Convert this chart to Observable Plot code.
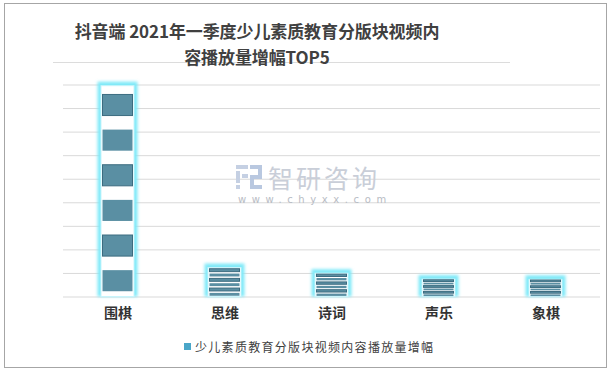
<!DOCTYPE html>
<html>
<head>
<meta charset="utf-8">
<script src="https://cdn.jsdelivr.net/npm/d3@7"></script>
<script src="https://cdn.jsdelivr.net/npm/@observablehq/plot@0.6"></script>
<style>
  body { margin: 0; background: #fff; }
  #wrap { position: relative; width: 615px; height: 373px; font-family: "Noto Sans CJK SC", "Noto Sans", sans-serif; overflow: hidden; }
  #frame { position: absolute; left: 4px; top: 3px; width: 603px; height: 365px; border: 1px solid #a6a6a6; box-sizing: border-box; pointer-events: none; }
  #title { position: absolute; left: 0; top: 18px; width: 514px; text-align: center; font-size: 17px; letter-spacing: -0.1px; font-weight: bold; color: #404040; line-height: 26px; }
  #tline { position: absolute; left: 53px; top: 62px; width: 457px; height: 0; border-top: 1px solid #dcdcdc; }
  #legend { position: absolute; left: 184px; top: 338px; font-size: 12px; color: #404040; letter-spacing: 1.3px; display: flex; align-items: center; }
  #legend .sw { width: 7px; height: 7px; background: #4aa6c8; margin-right: 4px; }
  #wm1 { position: absolute; left: 236px; top: 160px; color: #c9ced8; pointer-events: none; font-size: 25px; letter-spacing: 3px; line-height: 34px; display: flex; align-items: center; }
  #wm2 { position: absolute; left: 238px; top: 194px; font-family: "DejaVu Sans", sans-serif; font-size: 10px; letter-spacing: 5.6px; color: #b8bcc4; line-height: 12px; pointer-events: none; }
  #chart { position: absolute; left: 0; top: 0; }
</style>
</head>
<body>
<div id="wrap">
  <div id="tline"></div>
  <div id="chart"></div>
  <div id="wm1"><svg width="27" height="24" viewBox="0 0 27 24" style="margin-right:5px"><rect x="0" y="0" width="12" height="4" fill="#c5d0e3"/><rect x="0" y="6" width="4" height="12" fill="#c5d0e3"/><rect x="6" y="9" width="6" height="4" fill="#c5d0e3"/><rect x="14" y="0" width="12" height="4" fill="#b9c8e0"/><rect x="22" y="4" width="4" height="8" fill="#b9c8e0"/><rect x="14" y="10" width="12" height="4" fill="#b9c8e0"/><rect x="14" y="14" width="4" height="8" fill="#b9c8e0"/><rect x="14" y="20" width="12" height="4" fill="#b9c8e0"/><rect x="0" y="20" width="4" height="4" fill="#c5d0e3"/></svg><span>智研咨询</span></div>
  <div id="wm2">www.chyxx.com</div>
  <div id="title">抖音端 2021年一季度少儿素质教育分版块视频内<br>容播放量增幅TOP5</div>
  <div id="legend"><span class="sw"></span><span>少儿素质教育分版块视频内容播放量增幅</span></div>
  <div id="frame"></div>
</div>
<script>
const categories = ["围棋", "思维", "诗词", "声乐", "象棋"];
const growth = [895, 123, 99, 74, 73];
const gridValues = [0, 100, 200, 300, 400, 500, 600, 700, 800, 900];
const stripeCount = 6;

const data = categories.map((c, i) => ({cat: c, v: growth[i]}));
// stripes split each bar into equal parts (picture fill stretched over the bar)
const stripes = data.flatMap(d => d3.range(stripeCount).map(k => ({
  cat: d.cat, k,
  y1: d.v * (k + 0.15) / stripeCount,
  y2: d.v * (k + 0.75) / stripeCount
})));

const plot = Plot.plot({
  width: 615,
  height: 373,
  marginTop: 84.5,
  marginBottom: 76.5,
  marginLeft: 63,
  marginRight: 15,
  style: {background: "transparent", fontFamily: "'Noto Sans CJK SC', sans-serif", fontSize: "14px", fontWeight: "bold", color: "#333"},
  x: {domain: categories, paddingInner: 0.693, paddingOuter: 0.3465, tickSize: 0, tickPadding: 11, label: null},
  y: {domain: [0, 900], axis: null},
  marks: [
    Plot.ruleY(gridValues, {stroke: "#d9d9d9", strokeWidth: 1}),
    Plot.barY(data, {x: "cat", y: "v", fill: "#7fe9f8", insetLeft: -3.5, insetRight: -3.5, insetTop: -4}),
    Plot.barY(data, {x: "cat", y: "v", fill: "#ffffff", stroke: "#c8f4fb", strokeWidth: 1}),
    Plot.rectY(stripes, {x: "cat", y1: "y1", y2: "y2", fill: d => d.v < 200 ? "#4a90b0" : "#5a8fa3", insetLeft: 1.5, insetRight: 1.5,
      stroke: d => d.k % 2 === 1 ? "#3c6c80" : "none", strokeWidth: 1})
  ]
});

// soft glow on the halo bars
const svg = d3.select(plot);
const defs = svg.insert("defs", ":first-child");
defs.append("filter").attr("id", "glow").attr("x", "-50%").attr("y", "-20%").attr("width", "200%").attr("height", "140%")
  .append("feGaussianBlur").attr("stdDeviation", 1.8);
const bars = svg.selectAll("g[aria-label='bar']").nodes();
if (bars.length) d3.select(bars[0]).attr("filter", "url(#glow)");
svg.selectAll("g[aria-label='x-axis'] text, g[aria-label='x-axis tick label'] text").attr("fill", "#333");

document.getElementById("chart").appendChild(plot);
</script>
</body>
</html>
